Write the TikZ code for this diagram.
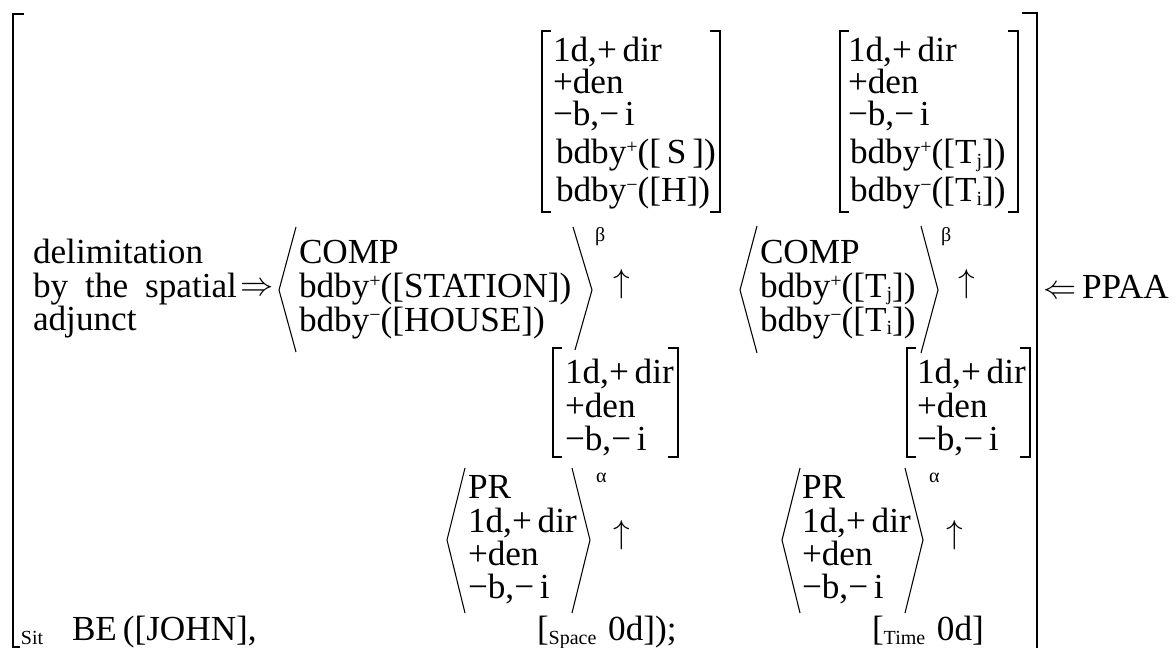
\documentclass[tikz,border=0pt]{standalone}
\usepackage{fontspec}
\setmainfont{Liberation Serif}
% lowered small index (Space, Time) and small super/subscripts of the features
\newcommand{\lowsub}[1]{\raisebox{-3pt}{\fontsize{15}{15}\selectfont #1}}
\newcommand{\supx}[1]{\raisebox{7.5pt}{\fontsize{15}{15}\selectfont #1}}
\newcommand{\subx}[1]{\raisebox{-2.5pt}{\fontsize{15}{15}\selectfont #1}}
\begin{document}
\begin{tikzpicture}[x=0.75pt,y=-0.75pt,
  t/.style={anchor=base west,inner sep=0pt,outer sep=0pt,font=\fontsize{26.4}{26}\selectfont},
  sym/.style={inner sep=0pt,outer sep=0pt,font=\fontsize{26.4}{26}\selectfont},
  sm/.style={anchor=base west,inner sep=0pt,outer sep=0pt,font=\fontsize{15}{15}\selectfont},
  sq/.style={line width=1.1pt},
  ang/.style={line width=0.8pt}]
\useasboundingbox (0,0) rectangle (1176,648);

% outer situation bracket
\draw[sq] (24,14) -- (13,14) -- (13,647) -- (20,647);
\draw[sq] (1022,13) -- (1037,13) -- (1037,648);
\node[sm] (sit) at (21,644) {Sit};
\node[t] (pp) at (1043,298) {$\Leftarrow$\,PPAA};

% left-hand gloss
\node[t] (d1) at (33,263) {delimitation};
\node[t] (d2) at (33,297) {\makebox[153pt][s]{by the spatial}};
\node[t] (d3) at (33,330) {adjunct};
\node[sym] (imp) at (257,289) {$\Rightarrow$};

% spatial COMP group
\node[t] (g1a) at (299,264) {COMP};
\node[t] (g1b) at (299,297) {bdby\supx{+}([STATION])};
\node[t] (g1c) at (299,331) {bdby\supx{−}([HOUSE])};
\draw[ang] (296,227) -- (279,290) -- (296,352);
\draw[ang] (573,227) -- (592,290) -- (575,350);
\node[sm] (b1) at (595,242) {β};
\node[sym] (u1) at (622,284) {$\uparrow$};

% spatial features, upper
\draw[sq] (551,31) -- (542,31) -- (542,212) -- (551,212);
\draw[sq] (710,31) -- (720,31) -- (720,212) -- (710,212);
\node[t] (m1a) at (553,62) {1d,+\,dir};
\node[t] (m1b) at (553,94) {+den};
\node[t] (m1c) at (553,126) {−b,−\,i};
\node[t] (m1d) at (556,164) {bdby\supx{+}([\,S\,])};
\node[t] (m1e) at (556,202) {bdby\supx{−}([H])};

% temporal COMP group
\node[t] (g2a) at (760,264) {COMP};
\node[t] (g2b) at (760,297) {bdby\supx{+}([T\subx{j}])};
\node[t] (g2c) at (760,331) {bdby\supx{−}([T\subx{i}])};
\draw[ang] (757,226) -- (740,290) -- (757,353);
\draw[ang] (921,226) -- (938,290) -- (921,353);
\node[sm] (b2) at (941,242) {β};
\node[sym] (u2) at (967,284) {$\uparrow$};

% temporal features, upper
\draw[sq] (849,31) -- (840,31) -- (840,212) -- (849,212);
\draw[sq] (1008,31) -- (1018,31) -- (1018,212) -- (1008,212);
\node[t] (m2a) at (848,62) {1d,+\,dir};
\node[t] (m2b) at (848,94) {+den};
\node[t] (m2c) at (848,126) {−b,−\,i};
\node[t] (m2d) at (850,164) {bdby\supx{+}([T\subx{j}])};
\node[t] (m2e) at (850,202) {bdby\supx{−}([T\subx{i}])};

% spatial features, lower
\draw[sq] (562,348) -- (553,348) -- (553,457) -- (562,457);
\draw[sq] (668,348) -- (678,348) -- (678,457) -- (668,457);
\node[t] (n1a) at (565,383) {1d,+\,dir};
\node[t] (n1b) at (565,417) {+den};
\node[t] (n1c) at (565,450) {−b,−\,i};

% temporal features, lower
\draw[sq] (916,348) -- (907,348) -- (907,457) -- (916,457);
\draw[sq] (1020,348) -- (1030,348) -- (1030,457) -- (1020,457);
\node[t] (n2a) at (917,383) {1d,+\,dir};
\node[t] (n2b) at (917,417) {+den};
\node[t] (n2c) at (917,450) {−b,−\,i};

% spatial PR group
\draw[ang] (465,468) -- (447,540) -- (465,613);
\draw[ang] (572,468) -- (590,540) -- (572,613);
\node[t] (p1a) at (468,498) {PR};
\node[t] (p1b) at (468,532) {1d,+\,dir};
\node[t] (p1c) at (468,565) {+den};
\node[t] (p1d) at (468,598) {−b,−\,i};
\node[sm] (al1) at (596,482) {α};
\node[sym] (u3) at (622,535) {$\uparrow$};

% temporal PR group
\draw[ang] (800,468) -- (782,540) -- (800,613);
\draw[ang] (905,468) -- (923,540) -- (905,613);
\node[t] (p2a) at (802,498) {PR};
\node[t] (p2b) at (802,532) {1d,+\,dir};
\node[t] (p2c) at (802,565) {+den};
\node[t] (p2d) at (802,598) {−b,−\,i};
\node[sm] (al2) at (929,482) {α};
\node[sym] (u4) at (955,535) {$\uparrow$};

% bottom line
\node[t] (be) at (72,640) {BE\,([JOHN],};
\node[t] (spc) at (537,640) {[\lowsub{Space}\,\,0d]);};
\node[t] (tim) at (872,640) {[\lowsub{Time}\,\,0d]};
\end{tikzpicture}
\end{document}
